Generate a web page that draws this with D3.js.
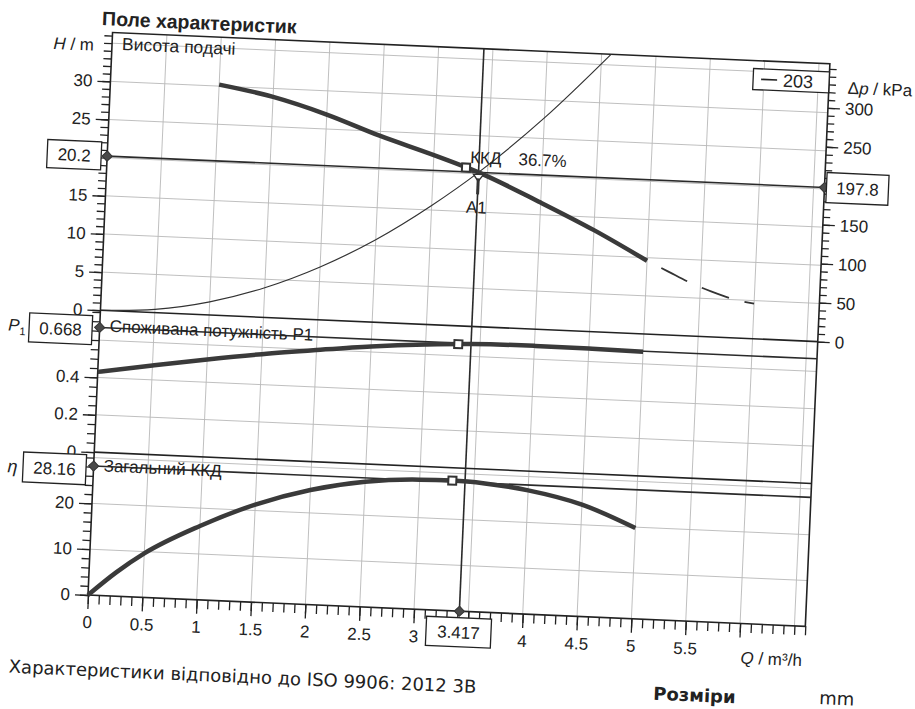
<!DOCTYPE html>
<html>
<head>
<meta charset="utf-8">
<script src="https://cdn.jsdelivr.net/npm/d3@7"></script>
<style>
body{margin:0;background:#fff;}
svg{display:block;font-family:"Liberation Sans",Arial,sans-serif;fill:#222;}
.grid{stroke:#b9b9b9;stroke-width:0.9;}
.frame{stroke:#222;stroke-width:1.6;fill:none;}
.axis path{display:none;}
.axis line{stroke:#222;stroke-width:1.3;}
.axis text{font-size:17px;fill:#222;}
.curve{fill:none;stroke:#3a3a3a;stroke-width:4.5;stroke-linecap:butt;}
.sys{fill:none;stroke:#333;stroke-width:1.2;}
.duty{stroke:#2a2a2a;stroke-width:1.6;}
.box{fill:#fff;stroke:#222;stroke-width:1.3;}
.lbl{font-size:17px;}
.foot{font-family:"DejaVu Sans",Verdana,sans-serif;font-size:18px;}
</style>
</head>
<body>
<script>
//Begin self-executing anonymous function to keep everything local
(function(){

//flow tick labels on the Q axis (3.5 hidden under the duty box)
var qLabels = [0, 0.5, 1, 1.5, 2, 2.5, 3, 4, 4.5, 5, 5.5];
var hLabels = [0, 5, 10, 15, 25, 30];
var dpLabels = [0, 50, 100, 150, 250, 300];
var pLabels = [0, 0.2, 0.4];
var etaLabels = [0, 10, 20];

//pump head curve (thick)
var headQ = [1.0, 1.5, 2.0, 2.5, 3.0, 3.417, 4.0, 4.5, 5.0];
var headH = [30.2, 28.9, 26.9, 24.4, 22.2, 20.2, 16.6, 13.3, 9.6];

//dashed continuation of the head curve
var dashQ = [5.0, 5.2, 5.4, 5.6, 5.8, 6.0];
var dashH = [9.6, 8.3, 7.0, 5.95, 5.1, 4.6];

//system curve (thin)
var sysQ = [0, 0.5, 1.0, 1.5, 2.0, 2.5, 3.0, 3.417, 4.0, 4.6];
var sysH = [0, 0.43, 1.73, 3.89, 6.92, 10.8, 15.6, 20.2, 27.7, 36.6];

//power input P1 / kW
var powQ = [0, 0.5, 1.0, 1.5, 2.0, 2.5, 3.0, 3.417, 4.0, 4.5, 5.0];
var powP = [0.43, 0.477, 0.522, 0.563, 0.598, 0.63, 0.653, 0.666, 0.671, 0.669, 0.665];

//overall efficiency / %
var effQ = [0, 0.25, 0.5, 1.0, 1.5, 2.0, 2.5, 3.0, 3.3, 3.6, 4.0, 4.5, 5.0];
var effE = [0, 5.2, 9.6, 16.1, 21.3, 25.0, 27.3, 28.3, 28.4, 28.1, 27.0, 24.4, 19.8];

//duty point values
var dutyQ = 3.417, dutyH = 20.2, dutyDp = 197.8, dutyP = 0.668, dutyEta = 28.16;
var bestQ = 3.3, bestEff = "36.7%", curveName = "203";

//frame (unrotated), the scan is tilted so the whole group gets rotated
var X0 = 88, X1 = 806, YTOP = 32, YH0 = 310, YP0 = 452, YE0 = 595;

var svg = d3.select("body").append("svg")
	.attr("width", 915)
	.attr("height", 709);

var g = svg.append("g")
	.attr("transform", "rotate(2.5," + X0 + "," + YE0 + ")");

var x = d3.scaleLinear().domain([0, 6.6]).range([X0, X1]);
var yH = d3.scaleLinear().domain([0, 36.4]).range([YH0, YTOP]);
var yDp = d3.scaleLinear().domain([0, 356.4]).range([YH0, YTOP]);
var yP = d3.scaleLinear().domain([0, 0.76]).range([YP0, YH0]);
var yE = d3.scaleLinear().domain([0, 31.2]).range([YE0, YP0]);

function zip(a, b){ return a.map(function(v, i){ return [v, b[i]]; }); }

//clip for the head panel
svg.append("defs").append("clipPath").attr("id", "hclip")
	.append("rect").attr("x", X0).attr("y", YTOP).attr("width", X1 - X0).attr("height", YH0 - YTOP);

//grid lines
var grid = g.append("g");
grid.selectAll(".vg").data(d3.range(0.5, 6.51, 0.5)).enter().append("line")
	.attr("class", "grid")
	.attr("x1", function(d){ return x(d); }).attr("x2", function(d){ return x(d); })
	.attr("y1", YTOP).attr("y2", YE0);
function hGrid(scale, vals){
	grid.selectAll(null).data(vals).enter().append("line")
		.attr("class", "grid")
		.attr("x1", X0).attr("x2", X1)
		.attr("y1", function(d){ return scale(d); }).attr("y2", function(d){ return scale(d); });
}
hGrid(yH, [5, 10, 15, 20, 25, 30, 35]);
hGrid(yP, [0.2, 0.4, 0.6]);
hGrid(yE, [10, 20, 30]);

//axes with major + minor ticks
function leftAxis(scale, labels, minors, fmt){
	g.append("g").attr("class", "axis").attr("transform", "translate(" + X0 + ",0)")
		.call(d3.axisLeft(scale).tickValues(minors).tickSize(8).tickFormat(""));
	g.append("g").attr("class", "axis").attr("transform", "translate(" + X0 + ",0)")
		.call(d3.axisLeft(scale).tickValues(labels).tickSize(13).tickPadding(5).tickFormat(fmt));
}
leftAxis(yH, hLabels, d3.range(0, 36.1, 1), d3.format("d"));
leftAxis(yP, pLabels, d3.range(0, 0.751, 0.05), function(d){ return d === 0 ? "0" : d3.format(".1f")(d); });
leftAxis(yE, etaLabels, d3.range(0, 30.1, 2), d3.format("d"));

//right pressure axis on the head panel
g.append("g").attr("class", "axis").attr("transform", "translate(" + X1 + ",0)")
	.call(d3.axisRight(yDp).tickValues(d3.range(0, 351, 10)).tickSize(7).tickFormat(""));
g.append("g").attr("class", "axis").attr("transform", "translate(" + X1 + ",0)")
	.call(d3.axisRight(yDp).tickValues(dpLabels).tickSize(12).tickPadding(5).tickFormat(d3.format("d")));

//bottom flow axis
g.append("g").attr("class", "axis").attr("transform", "translate(0," + YE0 + ")")
	.call(d3.axisBottom(x).tickValues(d3.range(0, 6.61, 0.1)).tickSize(9).tickFormat(""));
g.append("g").attr("class", "axis").attr("transform", "translate(0," + YE0 + ")")
	.call(d3.axisBottom(x).tickValues(qLabels.concat([3.5, 6])).tickSize(14).tickPadding(7)
		.tickFormat(function(d){ return (d === 3.5 || d === 6) ? "" : String(d); }));

//panel frames
var frame = g.append("g");
frame.append("rect").attr("class", "frame")
	.attr("x", X0).attr("y", YTOP).attr("width", X1 - X0).attr("height", YE0 - YTOP);
[YH0, YP0].forEach(function(yy){
	frame.append("line").attr("class", "frame").attr("x1", X0).attr("x2", X1).attr("y1", yy).attr("y2", yy);
});

//duty point lines
g.append("line").attr("class", "duty")
	.attr("x1", X0).attr("x2", X1).attr("y1", yH(dutyH)).attr("y2", yH(dutyH));
g.append("line").attr("class", "duty")
	.attr("x1", X0).attr("x2", X1).attr("y1", yP(dutyP)).attr("y2", yP(dutyP));
g.append("line").attr("class", "duty")
	.attr("x1", X0).attr("x2", X1).attr("y1", yE(dutyEta)).attr("y2", yE(dutyEta));
g.append("line").attr("class", "duty")
	.attr("x1", x(dutyQ)).attr("x2", x(dutyQ)).attr("y1", YTOP).attr("y2", YE0);

//curves
var lineH = d3.line().x(function(d){ return x(d[0]); }).y(function(d){ return yH(d[1]); }).curve(d3.curveMonotoneX);
var lineP = d3.line().x(function(d){ return x(d[0]); }).y(function(d){ return yP(d[1]); }).curve(d3.curveMonotoneX);
var lineE = d3.line().x(function(d){ return x(d[0]); }).y(function(d){ return yE(d[1]); }).curve(d3.curveMonotoneX);

g.append("path").attr("class", "sys").attr("clip-path", "url(#hclip)")
	.attr("d", lineH(zip(sysQ, sysH)));
g.append("path").attr("class", "curve").attr("d", lineH(zip(headQ, headH)));
g.append("path").attr("class", "sys")
	.style("stroke-width", 1.8)
	.style("stroke-dasharray", "29,16")
	.style("stroke-dashoffset", 29)
	.attr("d", lineH(zip(dashQ, dashH)));
g.append("path").attr("class", "curve").attr("d", lineP(zip(powQ, powP)));
g.append("path").attr("class", "curve").attr("d", lineE(zip(effQ, effE)));

//best efficiency squares
function interp(xs, ys, q){ return d3.scaleLinear().domain(xs).range(ys)(q); }
var sq = d3.symbol(d3.symbolSquare, 64);
[[yH, interp(headQ, headH, bestQ)], [yP, interp(powQ, powP, bestQ)], [yE, interp(effQ, effE, bestQ)]]
	.forEach(function(m){
		g.append("path").attr("d", sq)
			.attr("transform", "translate(" + x(bestQ) + "," + m[0](m[1]) + ")")
			.style("fill", "#fff").style("stroke", "#333").style("stroke-width", 2);
	});

//A1 marker below the duty point
var dx = x(dutyQ), dy = yH(dutyH);
g.append("path")
	.attr("d", "M" + (dx - 5) + "," + (dy + 2) + "L" + (dx + 5) + "," + (dy + 2) + "L" + dx + "," + (dy + 9) + "Z")
	.style("fill", "#fff").style("stroke", "#333").style("stroke-width", 1.4);
g.append("line").attr("x1", dx).attr("x2", dx).attr("y1", dy + 6).attr("y2", dy + 22)
	.style("stroke", "#333").style("stroke-width", 3);

//diamonds on the axes
var dia = d3.symbol(d3.symbolSquare, 52);
[[X0, yH(dutyH)], [X0, yP(dutyP)], [X0, yE(dutyEta)], [X1, yDp(dutyDp)], [x(dutyQ), YE0]]
	.forEach(function(p){
		g.append("path").attr("d", dia)
			.attr("transform", "translate(" + p[0] + "," + p[1] + ") rotate(45)")
			.style("fill", "#4a4a4a").style("stroke", "#333");
	});

//value boxes
function valueBox(cx, cy, w, h, txt){
	g.append("rect").attr("class", "box")
		.attr("x", cx - w / 2).attr("y", cy - h / 2).attr("width", w).attr("height", h);
	g.append("text").attr("x", cx).attr("y", cy).attr("dy", "0.36em")
		.attr("text-anchor", "middle").style("font-size", "17px").text(txt);
}
valueBox(X0 - 33, yH(dutyH), 54, 28, dutyH);
valueBox(X0 - 39, yP(dutyP) + 3, 63, 29, dutyP);
valueBox(X0 - 39, yE(dutyEta) + 4, 63, 30, dutyEta);
valueBox(X1 + 33, yDp(dutyDp), 62, 30, dutyDp);
valueBox(x(dutyQ), YE0 + 21, 65, 29, dutyQ);

//curve legend box
g.append("rect").attr("class", "box")
	.attr("x", X1 - 76).attr("y", YTOP + 8).attr("width", 76).attr("height", 21);
g.append("line").attr("x1", X1 - 68).attr("x2", X1 - 52)
	.attr("y1", YTOP + 18.5).attr("y2", YTOP + 18.5)
	.style("stroke", "#222").style("stroke-width", 1.6);
g.append("text").attr("x", X1 - 46).attr("y", YTOP + 25)
	.style("font-size", "18px").text(curveName);

//axis titles
var ht = g.append("text").attr("x", X0 - 18).attr("y", YTOP + 19)
	.attr("text-anchor", "end").style("font-size", "17px");
ht.append("tspan").style("font-style", "italic").text("H");
ht.append("tspan").text(" / m");

var pt = g.append("text").attr("x", X1 + 19).attr("y", YTOP + 29).style("font-size", "17px");
pt.append("tspan").text("Δ");
pt.append("tspan").style("font-style", "italic").text("p");
pt.append("tspan").text(" / kPa");

var p1 = g.append("text").attr("x", 14).attr("y", yP(dutyP) + 7)
	.attr("text-anchor", "end").style("font-size", "17px");
p1.append("tspan").style("font-style", "italic").text("P");
p1.append("tspan").attr("dy", 4).style("font-size", "11px").text("1");

g.append("text").attr("x", 2).attr("y", yE(dutyEta) + 10)
	.style("font-size", "18px").style("font-style", "italic").text("η");

var qt = g.append("text").attr("x", X1 - 2).attr("y", YE0 + 40)
	.attr("text-anchor", "end").style("font-size", "17px");
qt.append("tspan").style("font-style", "italic").text("Q");
qt.append("tspan").text(" / m³/h");

//panel captions
g.append("text").attr("class", "lbl").attr("x", X0 + 10).attr("y", YTOP + 17)
	.style("font-size", "17.5px").text("Висота подачі");
g.append("text").attr("class", "lbl").attr("x", X0 + 10).attr("y", yP(dutyP) + 4).text("Споживана потужність P1");
g.append("text").attr("class", "lbl").attr("x", X0 + 10).attr("y", yE(dutyEta) + 5).text("Загальний ККД");

//duty annotations
var kt = g.append("text").attr("class", "lbl").attr("x", dx - 9).attr("y", dy - 9);
kt.append("tspan").text("ККД");
kt.append("tspan").attr("dx", 17).text(bestEff);
g.append("text").attr("class", "lbl").attr("x", dx - 11).attr("y", dy + 41).text("A1");

//title and footer
g.append("text").attr("x", 77).attr("y", 25)
	.style("font-size", "19.5px").style("font-weight", "bold").text("Поле характеристик");
g.append("text").attr("class", "foot").attr("x", 12).attr("y", 676)
	.text("Характеристики відповідно до ISO 9906: 2012 3B");
g.append("text").attr("class", "foot").attr("x", 657).attr("y", 675)
	.style("font-weight", "bold").text("Розміри");
g.append("text").attr("class", "foot").attr("x", 823).attr("y", 672)
	.text("mm");

})();
</script>
</body>
</html>
